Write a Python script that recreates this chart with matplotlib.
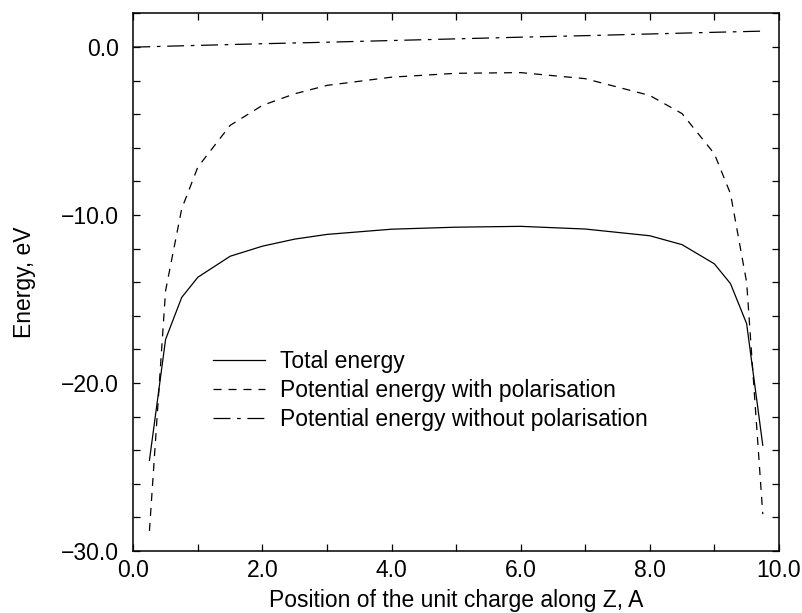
import numpy as np
import matplotlib
matplotlib.use('Agg')
import matplotlib.pyplot as plt
from matplotlib.ticker import MultipleLocator, FuncFormatter

plt.rcParams['font.family'] = ['Liberation Sans', 'DejaVu Sans']
plt.rcParams['lines.scale_dashes'] = False

# positions of the unit charge, A
z = [0.25, 0.5, 0.75, 1.0, 1.5, 2.0, 2.5, 3.0, 4.0, 5.0, 6.0, 7.0, 8.0, 8.5, 9.0, 9.25, 9.5, 9.75]
totalEnergy = [-24.6, -17.4, -14.9, -13.7, -12.45, -11.85, -11.43, -11.15, -10.84, -10.72, -10.67,
               -10.83, -11.23, -11.76, -12.9, -14.08, -16.46, -23.7]
withPolarisation = [-28.8, -14.5, -9.62, -7.14, -4.66, -3.47, -2.78, -2.28, -1.79, -1.56, -1.52,
                    -1.88, -2.88, -3.96, -6.35, -8.73, -14.0, -27.8]
zNoPol = [0.0, 0.25, 0.5, 1.0, 2.0, 3.0, 4.0, 5.0, 6.0, 7.0, 8.0, 9.0, 9.75]
withoutPolarisation = [0.0, 0.02, 0.05, 0.1, 0.2, 0.29, 0.39, 0.49, 0.59, 0.68, 0.78, 0.88, 0.95]

fs = 16.5

fig = plt.figure(figsize=(8.03, 6.13), dpi=100)
ax = fig.add_axes([0.166, 0.101, 0.804, 0.877])

ax.plot(z, totalEnergy, color='black', lw=0.9, label='Total energy')
ax.plot(z, withPolarisation, color='black', lw=0.9, dashes=(5.8, 5.0),
        label='Potential energy with polarisation')
ax.plot(zNoPol, withoutPolarisation, color='black', lw=0.9, dashes=(12.2, 4.8, 2.6, 4.8),
        label='Potential energy without polarisation')

ax.set_xlim(0, 10)
ax.set_ylim(-30, 2)
ax.xaxis.set_major_locator(MultipleLocator(2))
ax.xaxis.set_minor_locator(MultipleLocator(1))
ax.yaxis.set_major_locator(MultipleLocator(10))
ax.yaxis.set_minor_locator(MultipleLocator(2))
fmt = FuncFormatter(lambda v, p: ('%.1f' % v).replace('-', '\u2212'))
ax.xaxis.set_major_formatter(fmt)
ax.yaxis.set_major_formatter(fmt)
ax.tick_params(which='both', direction='in', top=True, right=True, width=0.9, length=5,
               labelsize=fs)
ax.tick_params(axis='x', pad=6)
ax.tick_params(axis='y', pad=10.5)
for s in ax.spines.values():
    s.set_linewidth(1.1)

ax.set_xlabel('Position of the unit charge along Z, A', fontsize=fs, labelpad=5)
ax.set_ylabel('Energy, eV', fontsize=fs, labelpad=18)

ax.legend(loc='upper left', bbox_to_anchor=(0.105, 0.395), frameon=False, fontsize=fs,
          handlelength=2.3, handletextpad=0.65, labelspacing=0.25, borderpad=0)

fig.savefig('out.png', dpi=100)
